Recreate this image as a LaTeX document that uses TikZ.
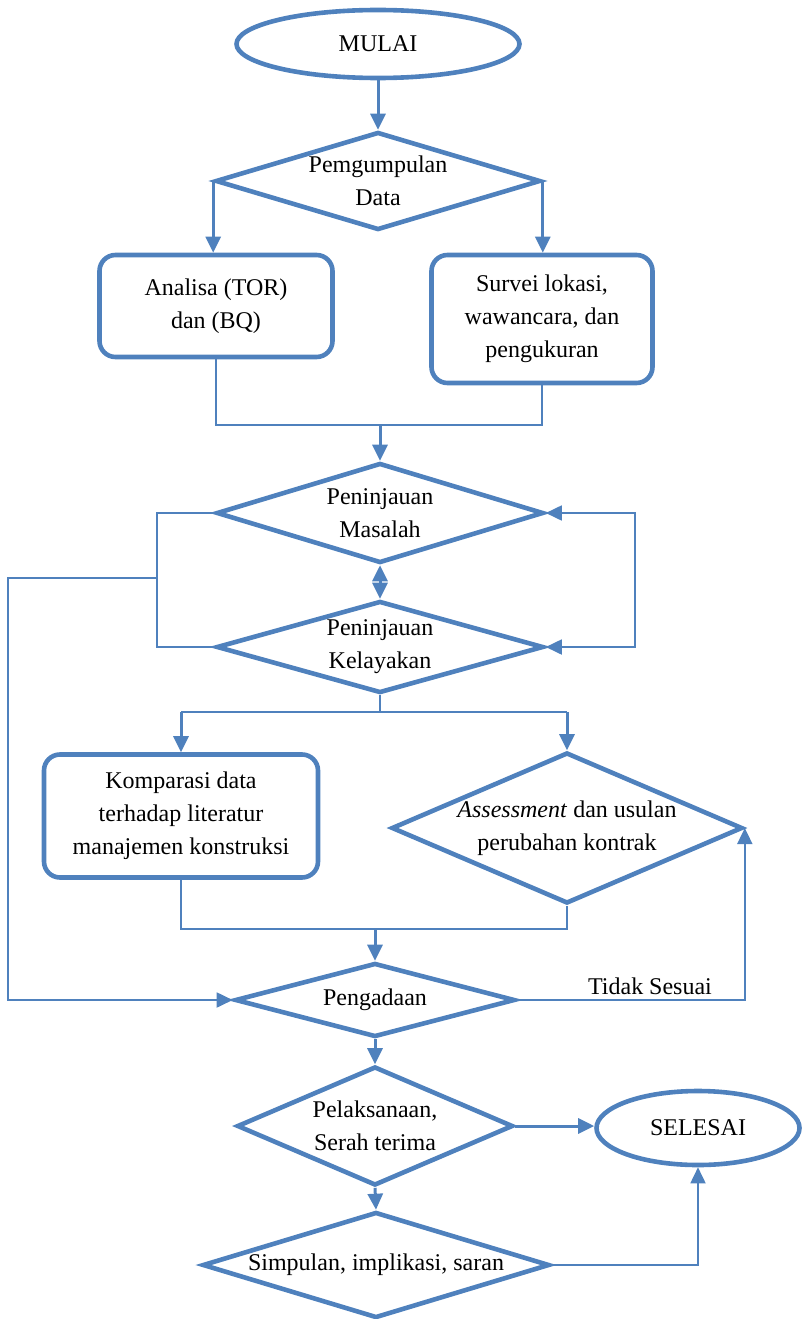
\documentclass[tikz,border=0pt]{standalone}
\usepackage{fontspec}
\setmainfont{Liberation Serif}
\usetikzlibrary{arrows.meta, shapes.geometric, calc}

\definecolor{flowblue}{RGB}{79,129,189}

\tikzset{
  base/.style={draw=flowblue, line width=4.6pt, font=\fontsize{24}{33}\selectfont, align=center, inner sep=0pt},
  terminal/.style={base, ellipse},
  process/.style={base, rectangle, rounded corners=16pt},
  decision/.style={base, diamond},
  txt/.style={font=\fontsize{24}{33}\selectfont, align=center},
  flow/.style={draw=flowblue, line width=3pt, -{Triangle[length=16pt,width=15pt]}},
  link/.style={draw=flowblue, line width=1.8pt},
  back/.style={link, -{Triangle[length=16pt,width=15pt]}},
}

\begin{document}
\begin{tikzpicture}[x=1pt, y=-1pt]
                \useasboundingbox (0,0) rectangle (802,1319);

                % Start
                \node[terminal, minimum width=283pt, minimum height=68pt] (mulai) at (378,44) {MULAI};
                \node[decision, minimum width=325pt, minimum height=98pt,
                      label={[txt]center:{Pemgumpulan\\Data}}] (kumpul) at (378,181) {};

                % Analysis and survey
                \node[process, minimum width=233pt, minimum height=102pt] (analisa) at (216,306) {Analisa (TOR)\\dan (BQ)};
                \node[process, minimum width=221pt, minimum height=128pt] (survei) at (542,319) {Survei lokasi,\\wawancara, dan\\pengukuran};

                % Review
                \node[decision, minimum width=327pt, minimum height=100pt,
                      label={[txt]center:{Peninjauan\\Masalah}}] (masalah) at (380,513) {};
                \node[decision, minimum width=327pt, minimum height=92pt,
                      label={[txt]center:{Peninjauan\\Kelayakan}}] (layak) at (380,647) {};

                % Comparison and assessment
                \node[process, minimum width=274pt, minimum height=123pt] (komparasi) at (181,816) {Komparasi data\\terhadap literatur\\manajemen konstruksi};
                \node[decision, minimum width=351pt, minimum height=151pt,
                      label={[txt]center:{\textit{Assessment} dan usulan\\perubahan kontrak}}] (assess) at (567,828) {};

                % Procurement to end
                \node[decision, minimum width=280pt, minimum height=74pt,
                      label={[txt]center:{Pengadaan}}] (adaan) at (375,1000) {};
                \node[decision, minimum width=276pt, minimum height=119pt,
                      label={[txt]center:{Pelaksanaan,\\Serah terima}}] (laksana) at (375,1126) {};
                \node[terminal, minimum width=203pt, minimum height=74pt] (selesai) at (698,1128) {SELESAI};
                \node[decision, minimum width=347pt, minimum height=106pt,
                      label={[txt]center:{Simpulan, implikasi, saran}}] (simpul) at (376,1265) {};
                \node[txt] (tidak) at (650,986) {Tidak Sesuai};

                % Junction points
                \coordinate (gabung1) at (380,425);
                \coordinate (kiri1) at (157,578);
                \coordinate (kiri2) at (8,578);
                \coordinate (kanan) at (635,513);
                \coordinate (cabang) at (380,712);
                \coordinate (gabung2) at (375,929);

                % Top arrows
                \draw[flow] (mulai.south) -- (kumpul.north);
                \draw[flow] (kumpul.west) -- (kumpul.west |- analisa.north);
                \draw[flow] (kumpul.east) -- (kumpul.east |- survei.north);
                \draw[link] (analisa.south) |- (gabung1) -| (survei.south);
                \draw[flow] (gabung1) -- (masalah.north);
                \draw[flow, {Triangle[length=16pt,width=15pt]}-{Triangle[length=16pt,width=15pt]}] (masalah.south) -- (layak.north);

                % Side loops
                \draw[link] (masalah.west) -| (kiri1) |- (layak.west);
                \draw[back] (kiri1) -- (kiri2) |- (adaan.west);
                \draw[link, {Triangle[length=16pt,width=15pt]}-{Triangle[length=16pt,width=15pt]}] (masalah.east) -- (kanan) |- (layak.east);

                % Split and join
                \draw[link] (layak.south) -- (cabang);
                \draw[link] (komparasi.north |- cabang) -- (assess.north |- cabang);
                \draw[flow] (komparasi.north |- cabang) -- (komparasi.north);
                \draw[flow] (assess.north |- cabang) -- (assess.north);
                \draw[link] (komparasi.south) |- (gabung2) -| (assess.south);
                \draw[flow] (gabung2) -- (adaan.north);

                % Bottom arrows
                \draw[back] (adaan.east) -| (assess.east);
                \draw[flow] (adaan.south) -- (laksana.north);
                \draw[flow] (laksana.east) -- (laksana.east -| selesai.west);
                \draw[flow] (laksana.south) -- (simpul.north);
                \draw[back] (simpul.east) -| (selesai.south);
            \end{tikzpicture}
\end{document}
